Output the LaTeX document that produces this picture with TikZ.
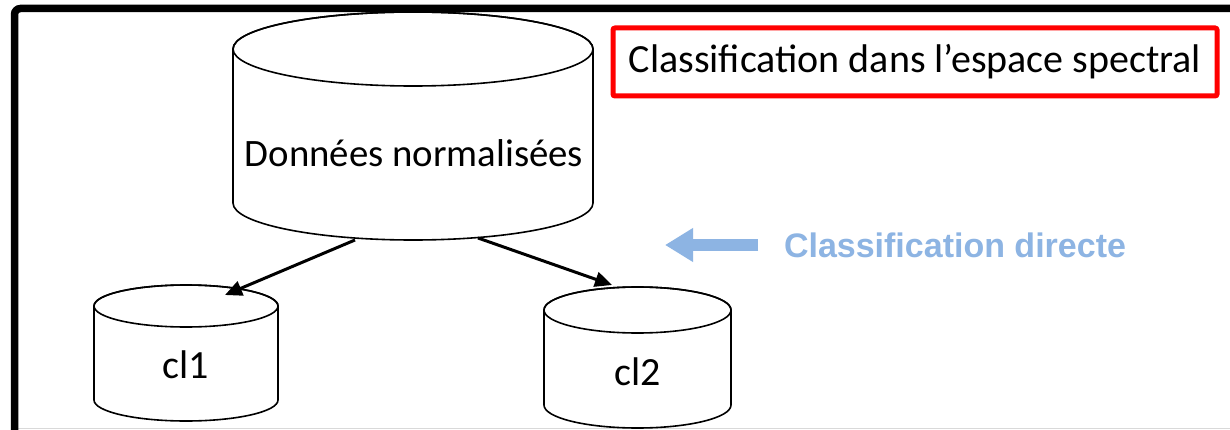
\documentclass[tikz,border=0pt]{standalone}
\usepackage{fontspec}
\setmainfont{Carlito}
\newfontfamily\headsans{Liberation Sans}
\usetikzlibrary{arrows.meta}
\definecolor{paleblue}{RGB}{141,180,227}
\tikzset{
  cyl/.style={draw=black, line width=1.6pt, fill=white},
  lbl/.style={inner sep=0pt, font=\fontsize{40}{48}\selectfont},
  flow/.style={line width=3pt, -{Triangle[length=17pt,width=15pt]}, shorten <=0pt},
}
% cylinder: centre x, top ellipse y, bottom ellipse y, x radius, y radius
\newcommand{\drumshape}[5]{%
  \path[cyl] (#1-#4,#2) -- (#1-#4,#3) arc[start angle=180,end angle=360,x radius=#4,y radius=#5]
    -- (#1+#4,#2) arc[start angle=0,end angle=180,x radius=#4,y radius=#5] -- cycle;
  \draw[line width=1.6pt] (#1,#2) ellipse[x radius=#4,y radius=#5];
}
\begin{document}
\begin{tikzpicture}[x=1pt,y=1pt]
\useasboundingbox (0,0) rectangle (1230,429);
\fill[white] (0,0) rectangle (1230,429);
% outer frame
\draw[black!15, line width=0.8pt] (18,0.6) -- (1230,0.6);
\draw[black, line width=7.5pt, rounded corners=6pt] (14.5,-5) -- (14.5,420.5) -- (1236,420.5);

% data stores
\drumshape{413}{380}{226}{180}{37}
\drumshape{186}{123}{29}{92}{21}
\drumshape{637.5}{119}{24}{93.5}{23}

\node[lbl, font=\fontsize{38.8}{46}\selectfont] (data) at (414,276) {Données normalisées};
\node[lbl] (cl1) at (186,64) {cl1};
\node[lbl] (cl2) at (637.5,57) {cl2};

% split connectors
\coordinate (dataL) at (355,189);
\coordinate (dataR) at (478,191);
\coordinate (cl1top) at (225,134);
\coordinate (cl2top) at (612,144);
\draw[flow] (dataL) -- (cl1top);
\draw[flow] (dataR) -- (cl2top);

% heading box
\node[lbl, draw=red, line width=5pt, rounded corners=2pt, minimum width=604pt, minimum height=68pt]
  (title) at (915,367) {Classification dans l’espace spectral};

% direct classification marker
\coordinate (bluefrom) at (758,184);
\coordinate (blueto) at (665,184);
\draw[paleblue, line width=12pt, -{Triangle[length=28pt,width=32pt]}] (bluefrom) -- (blueto);
\node[inner sep=0pt, text=paleblue, font=\headsans\bfseries\fontsize{34}{40}\selectfont]
  (direct) at (955,184) {Classification directe};
\end{tikzpicture}
\end{document}
